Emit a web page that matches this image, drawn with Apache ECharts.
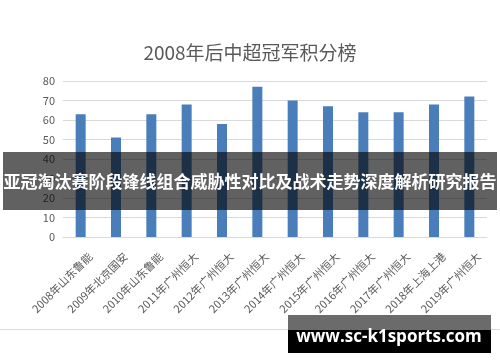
<!DOCTYPE html>
<html>
<head>
<meta charset="utf-8">
<title>2008年后中超冠军积分榜</title>
<style>
  html, body { margin: 0; padding: 0; background: #fff; }
</style>
</head>
<body>
    <div id="main" style="width: 500px; height: 362px;"></div>

    <script src="https://cdn.jsdelivr.net/npm/echarts@6/dist/echarts.min.js"></script>

    <script type="text/javascript">
        // 冠军球队和积分
        var teams = ['2008年山东鲁能', '2009年北京国安', '2010年山东鲁能', '2011年广州恒大',
            '2012年广州恒大', '2013年广州恒大', '2014年广州恒大', '2015年广州恒大',
            '2016年广州恒大', '2017年广州恒大', '2018年上海上港', '2019年广州恒大'];
        var points = [63, 51, 63, 68, 58, 77, 70, 67, 64, 64, 68, 72];

        var bannerText = '亚冠淘汰赛阶段锋线组合威胁性对比及战术走势深度解析研究报告';
        var siteText = 'www.sc-k1sports.com';

        var myChart = echarts.init(document.getElementById('main'));
        var font = '"Noto Sans CJK SC", "Open Sans", sans-serif';

        var option = {
            animation: false,
            textStyle: { fontFamily: font },
            title: {
                text: '2008年后中超冠军积分榜',
                left: 'center',
                top: 38,
                textStyle: { color: '#595959', fontSize: 19, fontWeight: 'normal', fontFamily: font }
            },
            grid: { left: 63, right: 13, top: 81, bottom: 125 },
            xAxis: {
                type: 'category',
                data: teams,
                axisLine: { show: true, lineStyle: { color: '#d9d9d9' } },
                axisTick: { show: false },
                axisLabel: { rotate: 45, color: '#595959', fontSize: 11, margin: 8, interval: 0,
                    verticalAlign: 'top', padding: [8, 0, 0, 0] }
            },
            yAxis: {
                type: 'value',
                min: 0,
                max: 80,
                interval: 10,
                axisLine: { show: false },
                axisTick: { show: false },
                axisLabel: { color: '#595959', fontSize: 11, margin: 8 },
                splitLine: { lineStyle: { color: '#d9d9d9' } }
            },
            series: [{
                type: 'bar',
                data: points,
                barWidth: 10,
                itemStyle: { color: '#4a7ebb' }
            }],
            graphic: [
                {
                    type: 'line', z: 50,
                    shape: { x1: 0, y1: 329.5, x2: 500, y2: 329.5 },
                    style: { stroke: '#d9d9d9', lineWidth: 1 }
                },
                {
                    type: 'rect', z: 100,
                    shape: { x: 3, y: 152, width: 494, height: 58 },
                    style: { fill: 'rgba(0,0,0,0.62)' }
                },
                {
                    type: 'text', z: 101, x: 250, y: 182,
                    style: { text: bannerText, fill: '#fff', fontSize: 17, fontWeight: 'bold', fontFamily: font,
                        align: 'center', verticalAlign: 'middle' }
                },
                {
                    type: 'rect', z: 100,
                    shape: { x: 288, y: 315, width: 203, height: 15 },
                    style: { fill: '#6b6b6b' }
                },
                {
                    type: 'rect', z: 100,
                    shape: { x: 288, y: 330, width: 203, height: 23 },
                    style: { fill: '#000' }
                },
                {
                    type: 'text', z: 101, x: 389, y: 337,
                    style: { text: siteText, fill: '#fff', fontSize: 17, fontWeight: 'bold',
                        fontFamily: '"Open Sans", sans-serif', align: 'center', verticalAlign: 'middle' }
                }
            ]
        };

        myChart.setOption(option);
    </script>
</body>
</html>
